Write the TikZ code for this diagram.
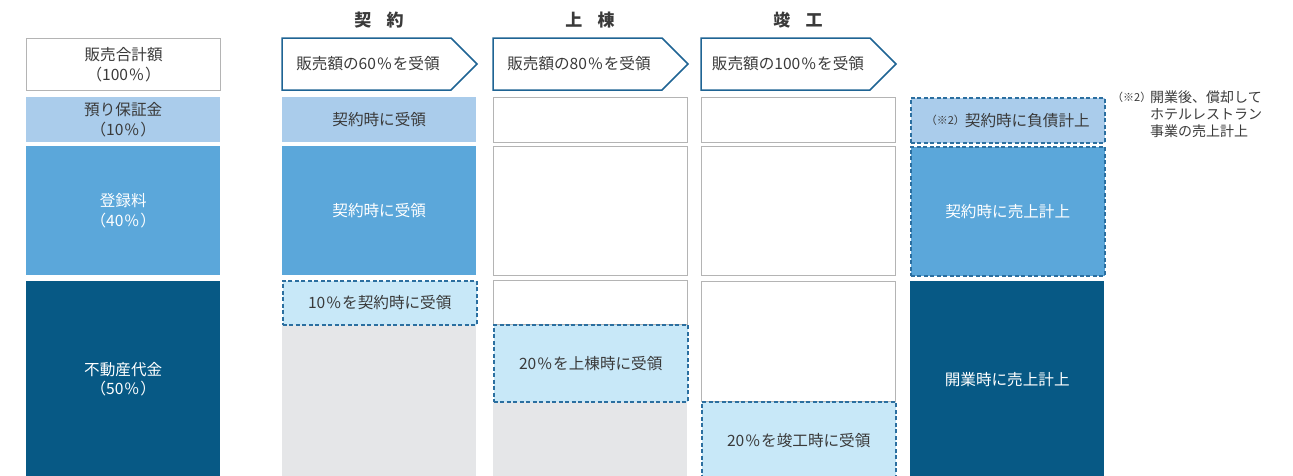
\documentclass[tikz,border=0pt]{standalone}
\usepackage{fontspec}
\setmainfont{Noto Sans CJK JP}
\definecolor{txt}{HTML}{3A3A3A}
\definecolor{outl}{HTML}{B4B4B4}
\definecolor{lblue}{HTML}{AACCEB}
\definecolor{mblue}{HTML}{5BA7DA}
\definecolor{dblue}{HTML}{075985}
\definecolor{cyanl}{HTML}{C8E8F8}
\definecolor{grayf}{HTML}{E5E6E8}
\definecolor{arrc}{HTML}{1F6494}
\definecolor{dashc}{HTML}{2B6FA0}
\newcommand{\pct}{\kern0.08em\%\kern0.08em}
\begin{document}
\begin{tikzpicture}[x=1pt,y=-1pt,
  cell/.style={anchor=north west, inner sep=0pt, minimum width=194pt, text=txt,
    font=\fontsize{15.6}{19.5}\selectfont, align=center},
  plainbox/.style={cell, draw=outl, line width=1.2pt, fill=white},
  dashbox/.style={cell, draw=dashc, line width=1.5pt, dash pattern=on 4pt off 2.5pt},
  arrline/.style={draw=arrc, line width=1.5pt, fill=white},
  head/.style={font=\fontsize{17}{20}\selectfont\bfseries, text=txt},
  note/.style={font=\fontsize{14}{17}\selectfont, text=txt, align=left, anchor=north west, inner sep=0pt}
]
\useasboundingbox (0,0) rectangle (1293,475);
\clip (0,0) rectangle (1293,475);

% headers
\node[head] (h1) at (379,20) {契\hspace{0.9em}約};
\node[head] (h2) at (590,20) {上\hspace{0.9em}棟};
\node[head] (h3) at (798,20) {竣\hspace{0.9em}工};

% column 1
\node[plainbox, minimum height=52pt] (c1r1) at (26,38) {販売合計額\\（100\pct）};
\node[cell, fill=lblue, minimum height=45pt] (c1r2) at (26,97) {預り保証金\\（10\pct）};
\node[cell, fill=mblue, minimum height=129pt, text=white] (c1r3) at (26,146) {登録料\\（40\pct）};
\node[cell, fill=dblue, minimum height=196pt, text=white] (c1r4) at (26,281) {不動産代金\\（50\pct）};

% arrows
\draw[arrline] (282,38) -- (451,38) -- (477,64) -- (451,90) -- (282,90) -- cycle;
\node[cell, anchor=center, minimum width=0pt] (a1) at (368,64) {販売額の60\pct を受領};
\draw[arrline] (493,38) -- (662,38) -- (688,64) -- (662,90) -- (493,90) -- cycle;
\node[cell, anchor=center, minimum width=0pt] (a2) at (579,64) {販売額の80\pct を受領};
\draw[arrline] (701,38) -- (870,38) -- (896,64) -- (870,90) -- (701,90) -- cycle;
\node[cell, anchor=center, minimum width=0pt] (a3) at (788,64) {販売額の100\pct を受領};

% column 2
\node[cell, fill=lblue, minimum height=45pt] (c2r2) at (282,97) {契約時に受領};
\node[cell, fill=mblue, minimum height=129pt, text=white] (c2r3) at (282,146) {契約時に受領};
\node[cell, fill=grayf, minimum height=155pt] (c2g) at (282,324) {};
\node[dashbox, fill=cyanl, minimum height=44pt] (c2r4) at (282,280) {10\pct を契約時に受領};

% column 3
\node[plainbox, minimum height=45pt] (c3r2) at (493,97) {};
\node[plainbox, minimum height=129pt] (c3r3) at (493,146) {};
\node[plainbox, minimum height=44pt] (c3r4) at (493,280) {};
\node[cell, fill=grayf, minimum height=80pt] (c3g) at (493,401) {};
\node[dashbox, fill=cyanl, minimum height=77pt] (c3d) at (493,324) {20\pct を上棟時に受領};

% column 4
\node[plainbox, minimum height=45pt] (c4r2) at (701,97) {};
\node[plainbox, minimum height=129pt] (c4r3) at (701,146) {};
\node[plainbox, minimum height=120pt] (c4r4) at (701,281) {};
\node[dashbox, fill=cyanl, minimum height=78pt] (c4d) at (701,401) {20\pct を竣工時に受領};

% column 5
\node[dashbox, fill=lblue, minimum height=45pt] (c5r2) at (910,97) {{\fontsize{11}{12}\selectfont\raisebox{2pt}{（※2）}}契約時に負債計上};
\node[dashbox, fill=mblue, minimum height=129pt, text=white] (c5r3) at (910,146) {契約時に売上計上};
\node[cell, fill=dblue, minimum height=196pt, text=white] (c5r4) at (910,281) {開業時に売上計上};

% note
\node[note, font=\fontsize{11}{12}\selectfont] (nm) at (1112,92) {（※2）};
\node[note] (nt) at (1150,91) {開業後、償却して\\ホテルレストラン\\事業の売上計上};
\end{tikzpicture}
\end{document}
